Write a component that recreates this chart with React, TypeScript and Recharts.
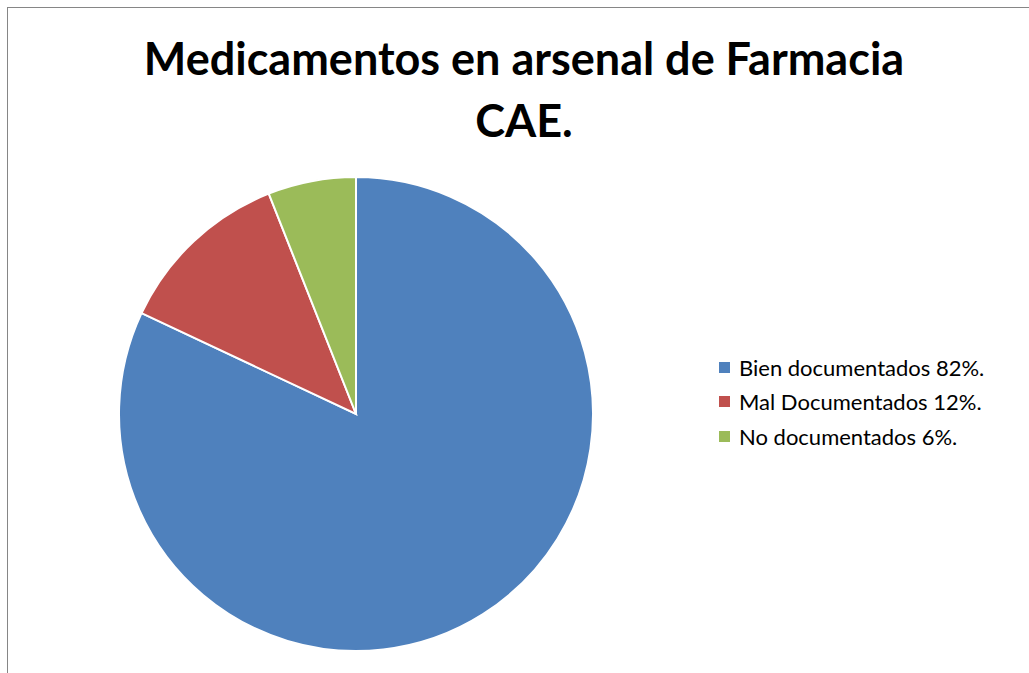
import React from "react";
import { PieChart, Pie, Cell, Legend } from "recharts";

const categories = ["Bien documentados 82%.", "Mal Documentados 12%.", "No documentados 6%."];
const values = [82, 12, 6];
const colors = ["#4F81BD", "#C0504D", "#9BBB59"];
const titleLines = ["Medicamentos en arsenal de Farmacia", "CAE."];

const data = categories.map((name, i) => ({ name, value: values[i] }));

const LegendContent = () => (
  <div style={{ fontFamily: "Lato, 'Open Sans', sans-serif", fontSize: 22, color: "#000" }}>
    {categories.map((c, i) => (
      <div key={c} style={{ display: "flex", alignItems: "center", height: 34.5 }}>
        <div style={{ width: 11, height: 11, background: colors[i], marginRight: 9 }} />
        <span>{c}</span>
      </div>
    ))}
  </div>
);

export default function App() {
  return (
    <div style={{ position: "fixed", left: 0, top: 0, width: 1029, height: 673, background: "#fff", overflow: "hidden" }}>
      <div style={{ position: "absolute", left: 7, top: 7, width: 1022, height: 666, borderTop: "1px solid #868686", borderLeft: "1px solid #868686", boxSizing: "border-box" }} />
      <div style={{ position: "absolute", left: 0, top: 27, width: 1048, textAlign: "center", fontFamily: "Lato, 'Open Sans', sans-serif", fontWeight: 700, fontSize: 45, lineHeight: "62px", color: "#000" }}>
        {titleLines.map((t) => (
          <div key={t}>{t}</div>
        ))}
      </div>
      <div style={{ position: "absolute", left: 0, top: 0 }}>
        <PieChart width={1029} height={673} margin={{ top: 0, right: 0, bottom: 0, left: 0 }}>
          <Pie
            data={data}
            dataKey="value"
            nameKey="name"
            cx={356}
            cy={414}
            outerRadius={237}
            startAngle={90}
            endAngle={-270}
            stroke="#fff"
            strokeWidth={2}
            isAnimationActive={false}
          >
            {data.map((d, i) => (
              <Cell key={d.name} fill={colors[i]} />
            ))}
          </Pie>
          <Legend
            layout="vertical"
            content={<LegendContent />}
            wrapperStyle={{ left: 719, top: 350, width: 280 }}
          />
        </PieChart>
      </div>
    </div>
  );
}
